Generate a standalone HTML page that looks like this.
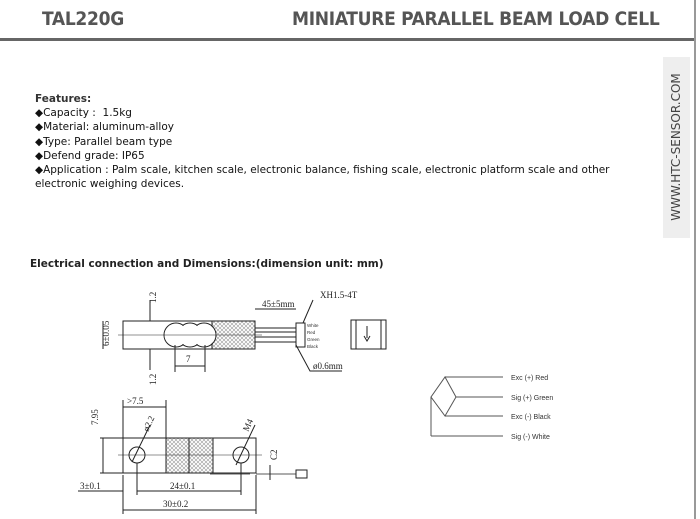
<!DOCTYPE html>
<html><head><style>
body{margin:0;width:700px;height:519px;background:#fff;position:relative;overflow:hidden;font-family:"DejaVu Sans","Liberation Sans",sans-serif;}
.h{position:absolute;top:8px;font-weight:bold;color:#555;font-size:19px;font-family:"DejaVu Sans Condensed","Liberation Sans Narrow","Liberation Sans",sans-serif;letter-spacing:-0.3px}
.f{position:absolute;left:35px;top:92px;font-size:10.5px;line-height:14.2px;color:#111;}
</style></head><body>
<div class="h" style="left:42px">TAL220G</div>
<div class="h" style="left:292px">MINIATURE PARALLEL BEAM LOAD CELL</div>
<div style="position:absolute;left:0;top:38px;width:696px;height:3px;background:#666"></div>
<div style="position:absolute;left:694px;top:0;width:2px;height:519px;background:#999"></div>
<div style="position:absolute;left:663px;top:57px;width:27px;height:181px;background:#eee"></div>
<div style="position:absolute;left:676px;top:147px;transform:translate(-50%,-50%) rotate(-90deg);white-space:nowrap;font-size:12px;color:#444;">WWW.HTC-SENSOR.COM</div>
<div class="f"><b style="color:#333">Features:</b><br>◆Capacity : &nbsp;1.5kg<br>◆Material: aluminum-alloy<br>◆Type: Parallel beam type<br>◆Defend grade: IP65<br>◆Application : Palm scale, kitchen scale, electronic balance, fishing scale, electronic platform scale and other<br>electronic weighing devices.</div>
<div style="position:absolute;left:30px;top:258px;font-size:10.5px;font-weight:bold;color:#222">Electrical connection and Dimensions:(dimension unit: mm)</div>
<svg width="700" height="519" style="position:absolute;left:0;top:0" font-family="Liberation Serif,serif">
<defs><pattern id="x" width="4" height="4" patternUnits="userSpaceOnUse"><path d="M0 0L4 4M4 0L0 4" stroke="#999" stroke-width="0.6"/></pattern></defs>
<g stroke="#222" fill="none" stroke-width="1">
<rect x="212" y="321" width="43" height="28" fill="url(#x)"/>
<rect x="123" y="321" width="132" height="28"/>
<circle cx="176" cy="335" r="12"/><circle cx="190" cy="335" r="12"/><circle cx="204" cy="335" r="12"/>
<g fill="#fff" stroke="none"><circle cx="176" cy="335" r="11.4"/><circle cx="190" cy="335" r="11.4"/><circle cx="204" cy="335" r="11.4"/></g>
<line x1="118" y1="335" x2="262" y2="335" stroke-width="0.5"/>
<line x1="255" y1="328" x2="296" y2="328"/><line x1="255" y1="332" x2="296" y2="332"/><line x1="255" y1="337" x2="296" y2="337"/><line x1="255" y1="342" x2="296" y2="342"/>
<rect x="296" y="323" width="9" height="24"/>
<line x1="255" y1="309" x2="296" y2="309"/>
<path d="M296 345L310 371H342"/>
<path d="M303 323L313 300"/>
<rect x="351" y="320" width="35" height="29"/><line x1="356" y1="320" x2="356" y2="349"/><line x1="381" y1="320" x2="381" y2="349"/>
<path d="M367 326v12M364 336l3 5 3-5"/>
<line x1="175" y1="366" x2="205" y2="366"/><line x1="175" y1="345" x2="175" y2="372"/><line x1="205" y1="345" x2="205" y2="372"/>
<line x1="103" y1="321" x2="103" y2="349"/><line x1="150" y1="300" x2="150" y2="321"/><line x1="150" y1="349" x2="150" y2="370"/>
<rect x="123" y="438" width="133" height="35"/>
<rect x="166" y="438" width="47" height="35" fill="url(#x)"/>
<line x1="189" y1="438" x2="189" y2="473"/>
<circle cx="137" cy="455" r="8" fill="#fff"/><circle cx="241" cy="455" r="8" fill="#fff"/>
<line x1="118" y1="455" x2="262" y2="455" stroke-width="0.5"/>
<path d="M210 474h40M256 474h40" stroke-width="0.8"/><rect x="296" y="470" width="11" height="8"/>
<line x1="123" y1="510" x2="256" y2="510"/><line x1="123" y1="475" x2="123" y2="514"/><line x1="256" y1="475" x2="256" y2="514"/>
<line x1="137" y1="491" x2="241" y2="491"/><line x1="137" y1="463" x2="137" y2="495"/><line x1="241" y1="463" x2="241" y2="495"/>
<line x1="78" y1="491" x2="123" y2="491"/>
<line x1="123" y1="407" x2="166" y2="407"/><line x1="123" y1="400" x2="123" y2="438"/><line x1="166" y1="400" x2="166" y2="438"/>
<line x1="103" y1="438" x2="103" y2="473"/><line x1="100" y1="438" x2="123" y2="438"/><line x1="100" y1="473" x2="123" y2="473"/>
<line x1="132" y1="462" x2="150" y2="425"/><line x1="236" y1="465" x2="255" y2="425"/>
<line x1="270" y1="465" x2="270" y2="480"/>
<path d="M445 377H503M456 397H503M445 416H503M431 436H503M445 377L456 397L445 416L431 397Z M431 397V436" stroke="#555"/>
</g>
<g fill="#222" font-size="9">
<text x="262" y="307">45±5mm</text><text x="320" y="298">XH1.5-4T</text><text x="313" y="369">ø0.6mm</text>
<text x="186" y="362">7</text>
<text x="80" y="489">3±0.1</text><text x="170" y="489">24±0.1</text><text x="163" y="507">30±0.2</text><text x="127" y="404">&gt;7.5</text>
<text transform="translate(109,346) rotate(-90)">6±0.05</text>
<text transform="translate(156,303) rotate(-90)">1.2</text><text transform="translate(156,385) rotate(-90)">1.2</text>
<text transform="translate(98,425) rotate(-90)">7.95</text>
<text transform="translate(148,432) rotate(-65)">ø2.2</text><text transform="translate(248,432) rotate(-65)">M4</text>
<text transform="translate(277,460) rotate(-90)">C2</text>
</g>
<g fill="#333" font-size="4.5" font-family="Liberation Sans,sans-serif"><text x="307" y="327">White</text><text x="307" y="334">Red</text><text x="307" y="341">Green</text><text x="307" y="348">Black</text></g>
<g fill="#333" font-size="7" font-family="Liberation Sans,sans-serif"><text x="511" y="380">Exc (+) Red</text><text x="511" y="400">Sig (+) Green</text><text x="511" y="419">Exc (-) Black</text><text x="511" y="439">Sig (-) White</text></g>
</svg>
</body></html>
